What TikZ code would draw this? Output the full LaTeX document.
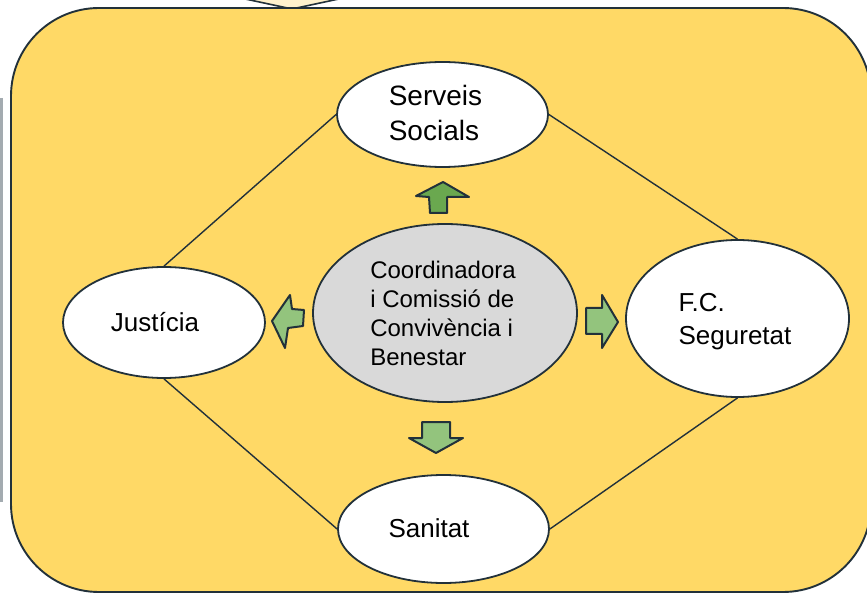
\documentclass[tikz,border=0pt]{standalone}
\usepackage{fontspec}
\setmainfont{Liberation Sans}
\usetikzlibrary{shapes.geometric}
\definecolor{panel}{HTML}{FFD966}
\definecolor{paleyel}{HTML}{FFF2CC}
\definecolor{outl}{HTML}{22313A}
\definecolor{cgray}{HTML}{D9D9D9}
\definecolor{dgreen}{HTML}{6AA84F}
\definecolor{lgreen}{HTML}{93C47D}
\definecolor{sidegray}{HTML}{A3ABB0}
\tikzset{
  ell/.style={ellipse, draw=outl, line width=1.8pt, fill=white, inner sep=0pt},
  txt/.style={inner sep=0pt, align=left, text=black},
  link/.style={draw=outl, line width=1.4pt},
  blockarrow/.style={draw=outl, line width=2pt, line join=round},
}
\begin{document}
\begin{tikzpicture}[x=1pt,y=-1pt]
\useasboundingbox (0,0) rectangle (867,593);
% side gray line
\draw[sidegray, line width=2.2pt] (1.5,98) -- (1.5,502);
% top pale triangle
\fill[paleyel] (236,-3) -- (292,9) -- (348,-3) -- cycle;
\draw[outl, line width=1.6pt] (236,-3) -- (292,9) -- (348,-3);
% main panel
\draw[fill=panel, draw=outl, line width=1.9pt, rounded corners=88pt] (11,8) rectangle (871,592);
% ellipses
\node[ell, minimum width=211pt, minimum height=105pt] (ss) at (442.5,114.5) {};
\node[ell, minimum width=202pt, minimum height=111pt] (ju) at (164,322.5) {};
\node[ell, fill=cgray, minimum width=264pt, minimum height=178pt] (co) at (445,313) {};
\node[ell, minimum width=223pt, minimum height=157pt] (fc) at (737.5,318.5) {};
\node[ell, minimum width=211pt, minimum height=108pt] (sa) at (443.5,529) {};
% connectors
\draw[link] (ss.west) -- (ju.north);
\draw[link] (ss.east) -- (fc.north);
\draw[link] (ju.south) -- (sa.west);
\draw[link] (fc.south) -- (sa.east);
% texts
\node[txt, font=\fontsize{28}{35}\selectfont] (sst) at (435.5,113) {Serveis\\Socials};
\node[txt, font=\fontsize{26}{30}\selectfont] (jut) at (155,322.5) {Justícia};
\node[txt, font=\fontsize{24}{29}\selectfont] (cot) at (443,313.5) {Coordinadora\\i Comissió de\\Convivència i\\Benestar};
\node[txt, font=\fontsize{26}{33}\selectfont] (fct) at (735,322) {F.C.\\Seguretat};
\node[txt, font=\fontsize{26}{30}\selectfont] (sat) at (429,528) {Sanitat};
% block arrows
\draw[blockarrow, fill=dgreen] (443,182) -- (469,197) -- (447,197) -- (447,213) -- (430,213) -- (429,197) -- (416,196) -- cycle;
\draw[blockarrow, fill=lgreen] (272,321) -- (290,295) -- (292,309) -- (304,310) -- (303,326) -- (288,328) -- (285,348) -- cycle;
\draw[blockarrow, fill=lgreen] (618,322) -- (602,295) -- (602,308) -- (586,308) -- (586,334) -- (602,334) -- (602,348) -- cycle;
\draw[blockarrow, fill=lgreen] (436,453) -- (463,438) -- (450,438) -- (450,422) -- (422,422) -- (422,438) -- (409,438) -- cycle;
\end{tikzpicture}
\end{document}
